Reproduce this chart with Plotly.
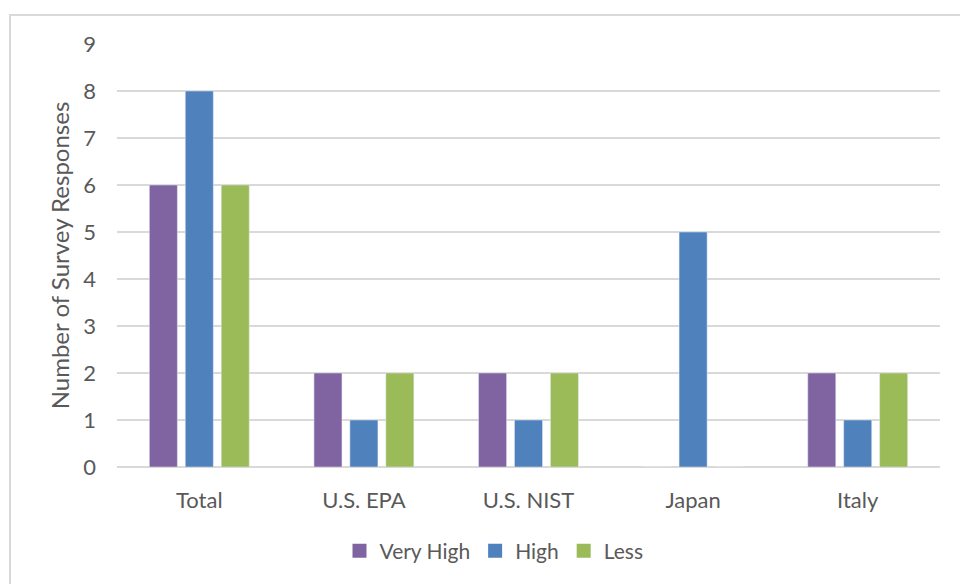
import plotly.graph_objects as go

categories = ["Total", "U.S. EPA", "U.S. NIST", "Japan", "Italy"]
very_high = [6, 2, 2, 0, 2]
high = [8, 1, 1, 5, 1]
less = [6, 2, 2, 0, 2]
y_ticks = list(range(0, 10))

names = ["Very High", "High", "Less"]
colors = ["#8064A2", "#4F81BD", "#9BBB59"]
series = [very_high, high, less]

FONT = "Lato, 'Open Sans', sans-serif"
GRAY = "#595959"

fig = go.Figure()
for n, c, s in zip(names, colors, series):
    fig.add_trace(go.Bar(name=n, x=categories, y=s, marker_color=c, showlegend=False))
for n, c in zip(names, colors):
    fig.add_trace(go.Scatter(name=n, x=[None], y=[None], mode="markers",
                             marker=dict(symbol="square", size=14, color=c), showlegend=True))

L, R, T, B = 117, 20, 44, 117
W, H = 960, 584
pw, ph = W - L - R, H - T - B

fig.update_layout(
    width=W, height=H,
    margin=dict(l=L, r=R, t=T, b=B),
    paper_bgcolor="white", plot_bgcolor="white",
    barmode="group", bargap=0.345, bargroupgap=0.22,
    font=dict(family=FONT, size=22, color=GRAY),
    showlegend=True,
    legend=dict(orientation="h", x=(494 - L) / pw, xanchor="center", y=-(551 - 467) / ph, yanchor="middle",
                font=dict(size=21, color=GRAY), itemsizing="trace", traceorder="normal",
                itemwidth=30, tracegroupgap=0),
    xaxis=dict(showgrid=False, showline=False, ticks="", tickfont=dict(size=22, color=GRAY),
               ticklabelstandoff=18),
    yaxis=dict(range=[0, 9], tickvals=y_ticks, showgrid=True, gridcolor="#D9D9D9", gridwidth=2,
               zeroline=True, zerolinecolor="#D9D9D9", zerolinewidth=2,
               tickfont=dict(size=22, color=GRAY), ticks="", ticklabelstandoff=20,
               title=dict(text="Number of Survey Responses", font=dict(size=24, color=GRAY), standoff=6)),
    shapes=[dict(type="rect", xref="paper", yref="paper",
                 x0=(10 - L) / pw, x1=(W + 20 - L) / pw,
                 y0=-(B + 20) / ph, y1=1 + (T - 15) / ph,
                 line=dict(color="#D9D9D9", width=2), layer="below")],
)

fig.write_html("out.html")
